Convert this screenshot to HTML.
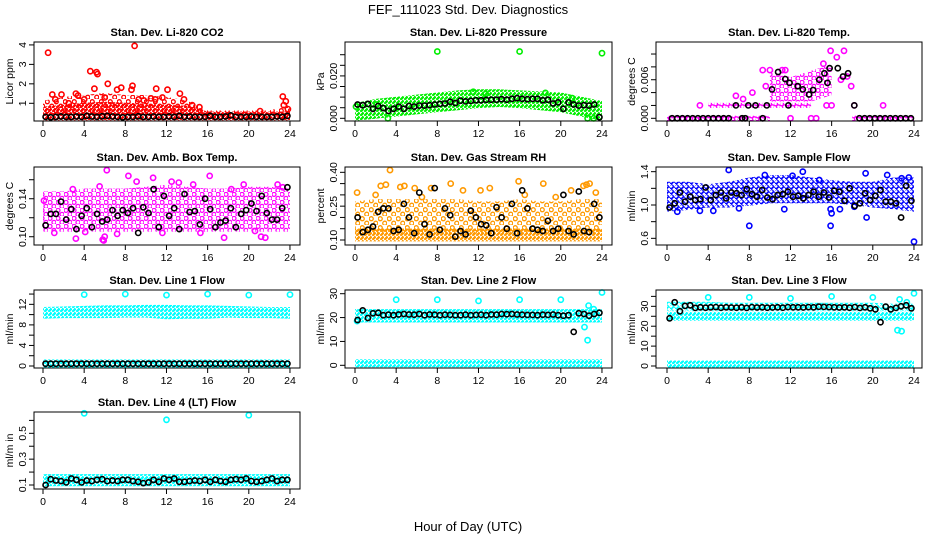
<!DOCTYPE html>
<html><head><meta charset="utf-8"><style>
html,body{margin:0;padding:0;background:#fff;}
svg{display:block;font-family:"Liberation Sans",Arial,sans-serif;}
</style></head><body>
<svg id="chart" width="936" height="540" viewBox="0 0 936 540">
<defs id="defs"></defs>
<text x="468" y="14" font-size="13" text-anchor="middle">FEF_111023  Std. Dev. Diagnostics</text>
<text x="468" y="531" font-size="13" text-anchor="middle">Hour of Day (UTC)</text>
</svg>
<script>
// ---- shared category arrays ----
const bandHours = [0,2,4,6,8,10,12,14,16,18,20,22,24];
const halfHours = Array.from({length:48},(_, i)=>i*0.5+0.25);
const xTicks = [0,4,8,12,16,20,24];

// ---- CO2 ----
const co2DenseLo = [0.25,0.25,0.25,0.25,0.25,0.25,0.25,0.25,0.25,0.25,0.25,0.25,0.25];
const co2DenseHi = [0.7,0.8,0.9,0.95,0.9,0.85,0.8,0.75,0.45,0.45,0.45,0.45,0.45];
const co2SparseLo = [0.5,0.5,0.5,0.5,0.5,0.5,0.5,0.5,0.4,0.4,0.4,0.4,0.4];
const co2SparseHi = [1.0,1.2,1.3,1.4,1.3,1.3,1.2,1.0,0.5,0.5,0.5,0.5,0.8];
const co2X = [0.5,4.6,5.2,5.3,6.3,7.2,7.6,8.7,8.9,8.6,11,12.1,13.3,13.7,3.2,1.8,0.9,5.0,23.3,23.6,9.3,10.5,11.6,21.1,23.4,23.8,2.5,4.0,6.0,14.5,15.2,1.2,3.4,9.8,10.9];
const co2Y = [3.6,2.65,2.6,2.5,2.0,1.7,1.8,1.9,3.95,1.7,1.75,1.7,1.5,1.2,1.5,1.45,1.45,1.75,1.35,1.1,1.2,1.25,1.3,0.6,0.9,0.7,1.0,1.2,1.3,0.9,0.8,1.2,1.4,1.15,1.2];
const co2Blk = [0.3,0.28,0.3,0.32,0.3,0.3,0.32,0.3,0.35,0.32,0.3,0.33,0.35,0.32,0.3,0.28,0.3,0.3,0.33,0.3,0.3,0.32,0.3,0.3,0.32,0.3,0.35,0.3,0.32,0.3,0.3,0.3,0.35,0.3,0.3,0.32,0.38,0.3,0.3,0.3,0.32,0.3,0.3,0.3,0.3,0.32,0.3,0.35];

// ---- Pressure ----
const prDenseLo = [0.0,0.001,0.002,0.003,0.004,0.005,0.006,0.0065,0.006,0.005,0.004,0.002,0.0];
const prDenseHi = [0.006,0.008,0.009,0.01,0.011,0.012,0.0125,0.0125,0.012,0.0115,0.011,0.009,0.007];
const prX = [8,16,24,2.1,3.2,22.6,23.2,0.1,11.5,12.7,18.5,21.1];
const prY = [0.0315,0.0315,0.0307,0.0065,0.0,0.0,0.0,0.0055,0.0125,0.0115,0.012,0.0095];
const prBlk = [0.0065,0.0062,0.0068,0.0045,0.0058,0.0048,0.0035,0.0045,0.0055,0.0045,0.0058,0.0055,0.006,0.006,0.0062,0.0065,0.0068,0.007,0.0078,0.0072,0.0083,0.008,0.0082,0.0085,0.0085,0.0087,0.0088,0.0088,0.009,0.0088,0.0092,0.0095,0.0092,0.009,0.0092,0.0092,0.0085,0.0088,0.007,0.0075,0.0045,0.0075,0.0065,0.006,0.0062,0.006,0.0065,0.0005];

// ---- Li-820 Temp ----
const tpDenseLo = [null,null,null,null,null,0.003,0.003,0.003,0.004,null,null,null,null];
const tpDenseHi = [null,null,null,null,null,0.007,0.006,0.007,0.008,null,null,null,null];
const tpZeroLo = [0,0,0,0,0,0,null,null,null,0,0,0,0];
const tpZeroHi = [0,0,0,0,0,0,null,null,null,0,0,0,0];
const tpTwoLo = [null,null,0.002,0.002,0.002,0.002,0.002,0.002,null,null,null,null,null];
const tpTwoHi = [null,null,0.002,0.002,0.002,0.002,0.002,0.002,null,null,null,null,null];
const tpX = [6.7,7.4,9.3,11.2,11.5,15.2,15.9,16.5,17.2,17.5,10,3.2,18.2,21,12,14,14.5,15.5,16,9.6,8.3,16.9,17.9];
const tpY = [0.0035,0.003,0.0075,0.0075,0.0075,0.0085,0.0105,0.0095,0.0105,0.0065,0.0075,0.002,0.002,0.002,0,0,0,0.002,0.002,0.005,0.004,0.006,0.005];
const tpBlkX = [0.5,1,1.5,2,2.5,3,3.5,4,4.5,5,5.5,6,7.3,7.6,9.3,6.7,7.9,8.6,9.7,10.2,10.8,11.5,11.9,11.8,12.7,13.2,13.8,14.2,14.8,15.3,15.6,15.8,16.6,17.1,17.6,18.2,18.7,19.2,19.7,20.2,20.7,21.2,21.7,22.2,22.7,23.2,23.7];
const tpBlkY = [0,0,0,0,0,0,0,0,0,0,0,0,0,0,0,0.002,0.002,0.002,0.002,0.0045,0.0072,0.0061,0.0055,0.002,0.005,0.0045,0.0037,0.0044,0.006,0.007,0.0055,0.0078,0.0078,0.0065,0.007,0.002,0,0,0,0,0,0,0,0,0,0,0];

// ---- Amb Box Temp ----
const abLo = [0.108,0.108,0.108,0.108,0.108,0.108,0.108,0.108,0.108,0.108,0.108,0.108,0.108];
const abHi = [0.145,0.145,0.148,0.148,0.148,0.15,0.152,0.15,0.148,0.148,0.15,0.15,0.148];
const abX = [8.3,10.7,13.2,16.2,6.2,12.5,5.5,19.5,22.8,3.2,5.8,6,21.2,21.6,17.6,5.9,0.1,2.9,9.1,14.6,18.3,23.3,1.1,11.6,15.3,20.6,7.2,4.1];
const abY = [0.164,0.162,0.157,0.164,0.17,0.158,0.153,0.155,0.155,0.098,0.097,0.1,0.1,0.099,0.099,0.096,0.138,0.15,0.158,0.155,0.15,0.152,0.104,0.104,0.104,0.106,0.103,0.105];
const abBlk = [0.112,0.124,0.124,0.137,0.118,0.129,0.108,0.122,0.13,0.11,0.124,0.116,0.118,0.128,0.122,0.128,0.125,0.13,0.104,0.131,0.125,0.15,0.11,0.143,0.122,0.13,0.108,0.145,0.126,0.127,0.113,0.14,0.129,0.11,0.115,0.117,0.13,0.11,0.124,0.128,0.135,0.127,0.143,0.125,0.118,0.118,0.13,0.152];

// ---- Gas Stream RH ----
const rhDenseLo = [0.105,0.105,0.105,0.105,0.105,0.105,0.105,0.105,0.105,0.105,0.105,0.105,0.105];
const rhDenseHi = [0.14,0.14,0.14,0.14,0.14,0.14,0.14,0.14,0.14,0.14,0.14,0.14,0.14];
const rhSparseLo = [0.14,0.14,0.14,0.14,0.14,0.14,0.14,0.14,0.14,0.14,0.14,0.14,0.14];
const rhSparseHi = [0.26,0.27,0.27,0.27,0.27,0.27,0.26,0.26,0.27,0.26,0.26,0.27,0.27];
const rhX = [3.4,0.2,2.5,3.0,4.4,4.8,5.8,9.3,13.1,12.2,15.9,18.3,21.0,22.2,22.5,23.4,22.8,7.4,10.5,2.0,6.5,16.5,19.5];
const rhY = [0.41,0.31,0.34,0.345,0.335,0.34,0.33,0.35,0.33,0.32,0.36,0.35,0.32,0.34,0.345,0.31,0.35,0.33,0.32,0.3,0.29,0.3,0.29];
const rhBlk = [0.2,0.135,0.145,0.16,0.225,0.24,0.24,0.14,0.145,0.26,0.2,0.13,0.31,0.17,0.125,0.33,0.145,0.24,0.21,0.115,0.14,0.125,0.23,0.2,0.17,0.165,0.13,0.245,0.2,0.15,0.26,0.13,0.32,0.24,0.15,0.145,0.14,0.185,0.14,0.15,0.3,0.14,0.125,0.315,0.14,0.135,0.26,0.2];

// ---- Sample Flow ----
const sfLo = [0.95,0.97,1.0,1.0,1.02,1.05,1.05,1.05,1.05,1.03,1.0,0.98,0.95];
const sfHi = [1.25,1.25,1.22,1.25,1.3,1.33,1.33,1.3,1.27,1.25,1.25,1.3,1.3];
const sfX = [6,8,15.9,15.9,16,19.4,24,7,11.4,13.2,19.3,21.4,3.2,1,16.8,18.2,9.5,12.2,14.8,22.8,23.5,4.5];
const sfY = [1.42,0.75,0.75,0.95,0.9,0.85,0.56,0.96,0.95,1.4,1.38,1.36,0.93,0.92,0.95,0.98,1.36,1.35,1.3,1.32,1.33,0.93];
const sfBlk = [0.97,1.02,1.15,1.04,1.1,1.06,1.07,1.21,1.06,1.12,1.15,1.08,1.15,1.14,1.12,1.19,1.13,1.1,1.18,1.09,1.07,1.12,1.13,1.16,1.1,1.11,1.08,1.12,1.16,1.1,1.15,1.09,1.17,1.16,1.05,1.2,0.99,1.02,1.14,1.06,1.11,1.18,1.04,1.04,1.02,0.85,1.23,1.05];

// ---- Line 1 ----
const l1Lo = [9.7,9.8,9.8,9.8,9.9,9.9,9.6,9.7,9.7,9.9,9.8,9.8,9.7];
const l1Hi = [11.0,11.1,11.2,11.3,11.3,11.4,11.4,11.3,11.3,11.2,11.1,11.0,11.0];
const l1ZLo = [0.2,0.2,0.2,0.2,0.2,0.2,0.2,0.2,0.2,0.2,0.2,0.2,0.2];
const l1ZHi = [0.8,0.8,0.8,0.8,0.8,0.8,0.8,0.8,0.8,0.8,0.8,0.8,0.8];
const l1X = [4,8,12,16,20,24];
const l1Y = [13.9,14.0,13.8,14.0,13.8,13.9];
const l1Blk = Array(48).fill(0.45);

// ---- Line 2 ----
const l2Lo = [19,19,19,19,19,19,19,19,19,19,19,19,19];
const l2Hi = [22.5,22.5,22.5,22.5,22.5,22.5,22.5,22.5,22.5,22.5,22.5,22.5,22.5];
const l2ZLo = [0.2,0.2,0.2,0.2,0.2,0.2,0.2,0.2,0.2,0.2,0.2,0.2,0.2];
const l2ZHi = [1.5,1.5,1.5,1.5,1.5,1.5,1.5,1.5,1.5,1.5,1.5,1.5,1.5];
const l2X = [4,8,12,16,20,24,22.3,22.6,22.7,23.2,0.2];
const l2Y = [27.5,27.5,27,27.5,27.5,30.5,16,10.5,25,23.5,18.5];
const l2Blk = [19,23,19.8,21.8,22,21,21.2,21,21.3,21.5,21.3,21.2,21.5,21,21.3,21.2,21,21.2,21.1,21,21,21.2,21,21.1,21.2,21,21.3,21.2,21.5,21.4,21.5,21.3,21.2,21.1,21.1,21,21.2,21.1,21.3,21,20.8,21,14,21.8,21.5,20.8,21.5,22];

// ---- Line 3 ----
const l3Lo = [24,24,24,24,24,24,24,24,24,24,24,24,24];
const l3Hi = [26,26,26,26,26,26,26,26,26,26,26,26,26];
const l3UpLo = [29,29,29,29,29,29,29,29,29,29,29,29,29];
const l3UpHi = [31,31,31,30.5,30.5,30.5,30.5,30.5,30.5,30.5,30.5,30,30];
const l3ZLo = [0.2,0.2,0.2,0.2,0.2,0.2,0.2,0.2,0.2,0.2,0.2,0.2,0.2];
const l3ZHi = [1.5,1.5,1.5,1.5,1.5,1.5,1.5,1.5,1.5,1.5,1.5,1.5,1.5];
const l3X = [4,8,12,16,20,24,22.6,22.4,22.8,23.3];
const l3Y = [34.5,34.5,34,35,34.5,36.5,33.5,18,17.5,32];
const l3Blk = [24,32,27.5,30.2,30.5,29.2,29.5,29.3,29.5,29.6,29.3,29.5,29.4,29.3,29.5,29.2,29.6,29.4,29.5,29.3,29.4,29.5,29.3,29.6,29.5,29.5,29.4,29.6,29.5,29.8,29.7,29.6,29.5,29.4,29.5,29.3,29.6,29.2,29.5,29.0,28.5,22,29.8,28.5,29.2,30,30.5,29];

// ---- Line 4 ----
const l4Lo = [0.11,0.11,0.11,0.11,0.11,0.11,0.11,0.11,0.11,0.11,0.11,0.11,0.11];
const l4Hi = [0.165,0.165,0.165,0.165,0.165,0.165,0.165,0.165,0.165,0.165,0.165,0.165,0.165];
const l4X = [4,12,20];
const l4Y = [0.655,0.605,0.64];
const l4Blk = [0.1,0.145,0.135,0.13,0.12,0.15,0.14,0.12,0.135,0.13,0.14,0.145,0.13,0.135,0.13,0.14,0.14,0.13,0.125,0.115,0.12,0.14,0.125,0.15,0.14,0.15,0.125,0.125,0.13,0.135,0.13,0.14,0.125,0.14,0.13,0.125,0.14,0.145,0.14,0.15,0.13,0.125,0.13,0.14,0.15,0.13,0.14,0.14];

// ---- layout (not data) ----
const NS = "http://www.w3.org/2000/svg";
const svg = document.getElementById('chart');
const defs = document.getElementById('defs');
const colLeft = [34,345,656], colRight = [300,612,922], colZero = [43,355,667];
const rowTop = [42,167,290,412], rowBot = [121,245,368,489];
const PX_PER_HR = 10.29;

function mk(tag, attrs, parent){
  const e = document.createElementNS(NS, tag);
  for (const k in attrs) e.setAttribute(k, attrs[k]);
  (parent||svg).appendChild(e);
  return e;
}
const patMade = {};
function pattern(color, sp){
  const id = 'p' + color.replace('#','') + '_' + String(sp).replace('.','_');
  if (patMade[id]) return id;
  patMade[id] = 1;
  const p = mk('pattern', {id:id, width:sp, height:sp, patternUnits:'userSpaceOnUse'}, defs);
  mk('circle', {cx:sp*0.25, cy:sp*0.3, r:2, fill:'none', stroke:color, 'stroke-width':1.3}, p);
  mk('circle', {cx:sp*0.75, cy:sp*0.8, r:2, fill:'none', stroke:color, 'stroke-width':1.3}, p);
  return id;
}

const panels = [
 {t:'Stan. Dev. Li-820 CO2', c:0,r:0, yd:[0.09,4.15], ticks:[1,2,3,4], labels:[1,2,3,4], fmt:0, yl:'Licor ppm', col:'#ff0000',
  bands:[[co2SparseLo,co2SparseHi,9],[co2DenseLo,co2DenseHi,4]], sx:co2X, sy:co2Y, bx:halfHours, by:co2Blk},
 {t:'Stan. Dev. Li-820 Pressure', c:1,r:0, yd:[-0.00127,0.036], ticks:[0,0.005,0.01,0.015,0.02,0.025,0.03], labels:[0,0.02], fmt:3, yl:'kPa', col:'#00ee00',
  bands:[[prDenseLo,prDenseHi,4]], sx:prX, sy:prY, bx:halfHours, by:prBlk},
 {t:'Stan. Dev. Li-820 Temp.', c:2,r:0, yd:[-0.00042,0.01187], ticks:[0,0.002,0.004,0.006,0.008,0.01], labels:[0,0.006], fmt:3, yl:'degrees C', col:'#ff00ff',
  bands:[[tpDenseLo,tpDenseHi,8],[tpZeroLo,tpZeroHi,6],[tpTwoLo,tpTwoHi,6]], sx:tpX, sy:tpY, bx:tpBlkX, by:tpBlkY},
 {t:'Stan. Dev. Amb. Box Temp.', c:0,r:1, yd:[0.0913,0.1734], ticks:[0.1,0.12,0.14,0.16], labels:[0.1,0.14], fmt:2, yl:'degrees C', col:'#ff00ff',
  bands:[[abLo,abHi,8]], sx:abX, sy:abY, bx:halfHours, by:abBlk},
 {t:'Stan. Dev. Gas Stream RH', c:1,r:1, yd:[0.0778,0.4236], ticks:[0.1,0.15,0.2,0.25,0.3,0.35,0.4], labels:[0.1,0.25,0.4], fmt:2, yl:'percent', col:'#ff9900',
  bands:[[rhSparseLo,rhSparseHi,9],[rhDenseLo,rhDenseHi,4]], sx:rhX, sy:rhY, bx:halfHours, by:rhBlk},
 {t:'Stan. Dev. Sample Flow', c:2,r:1, yd:[0.52,1.456], ticks:[0.6,0.8,1.0,1.2,1.4], labels:[0.6,1.0,1.4], fmt:1, yl:'ml/min', col:'#0000ff',
  bands:[[sfLo,sfHi,5]], sx:sfX, sy:sfY, bx:halfHours, by:sfBlk},
 {t:'Stan. Dev. Line 1 Flow', c:0,r:2, yd:[-0.39,14.79], ticks:[0,2,4,6,8,10,12,14], labels:[0,4,8,12], fmt:0, yl:'ml/min', col:'#00ffff',
  bands:[[l1Lo,l1Hi,4],[l1ZLo,l1ZHi,4]], sx:l1X, sy:l1Y, bx:halfHours, by:l1Blk},
 {t:'Stan. Dev. Line 2 Flow', c:1,r:2, yd:[-1.13,31.55], ticks:[0,10,20,30], labels:[0,10,20,30], fmt:0, yl:'ml/min', col:'#00ffff',
  bands:[[l2Lo,l2Hi,4],[l2ZLo,l2ZHi,4]], sx:l2X, sy:l2Y, bx:halfHours, by:l2Blk},
 {t:'Stan. Dev. Line 3 Flow', c:2,r:2, yd:[-1.0,38.2], ticks:[0,5,10,15,20,25,30,35], labels:[0,10,20,30], fmt:0, yl:'ml/min', col:'#00ffff',
  bands:[[l3Lo,l3Hi,4],[l3UpLo,l3UpHi,5],[l3ZLo,l3ZHi,4]], sx:l3X, sy:l3Y, bx:halfHours, by:l3Blk},
 {t:'Stan. Dev. Line 4 (LT) Flow', c:0,r:3, yd:[0.069,0.665], ticks:[0.1,0.2,0.3,0.4,0.5,0.6], labels:[0.1,0.3,0.5], fmt:1, yl:'ml/m in', col:'#00ffff',
  bands:[[l4Lo,l4Hi,4]], sx:l4X, sy:l4Y, bx:halfHours, by:l4Blk}
];

panels.forEach((P, pi) => {
  const L = colLeft[P.c], R = colRight[P.c], T = rowTop[P.r], B = rowBot[P.r];
  const xs = h => colZero[P.c] + h * PX_PER_HR;
  const ys = v => B - (v - P.yd[0]) / (P.yd[1] - P.yd[0]) * (B - T);
  const slug = P.t.replace('Stan. Dev. ','').toLowerCase().replace(/[^a-z0-9]+/g,'-').replace(/-$/,'');
  const g = mk('g', {});
  
  

  const tt = mk('text', {x:(L+R)/2, y:T-6, 'font-size':11, 'font-weight':'bold', 'text-anchor':'middle'}, g);
  tt.textContent = P.t;
  
  

  P.bands.forEach(bd => {
    const lo = bd[0], hi = bd[1], pid = pattern(P.col, bd[2]);
    let run = [];
    const flush = () => {
      if (!run.length) return;
      const x0 = xs(bandHours[run[0]]) - (run.length === 1 ? 3 : 0);
      const x1 = xs(bandHours[run[run.length-1]]) + (run.length === 1 ? 3 : 0);
      let pts = [];
      if (run.length === 1) {
        const i = run[0];
        pts = [[x0, ys(hi[i]) - 2.5], [x1, ys(hi[i]) - 2.5], [x1, ys(lo[i]) + 2.5], [x0, ys(lo[i]) + 2.5]];
      } else {
        run.forEach(i => pts.push([xs(bandHours[i]), ys(hi[i]) - 2.5]));
        run.slice().reverse().forEach(i => pts.push([xs(bandHours[i]), ys(lo[i]) + 2.5]));
      }
      const poly = mk('polygon', {points: pts.map(p => p.map(n => n.toFixed(1)).join(',')).join(' '), fill:'url(#' + pid + ')'}, g);
      
      
      run = [];
    };
    for (let i = 0; i < bandHours.length; i++) {
      if (lo[i] === null || hi[i] === null) flush(); else run.push(i);
    }
    flush();
  });

  P.sx.forEach((h, i) => {
    const c = mk('circle', {cx:xs(h).toFixed(1), cy:ys(P.sy[i]).toFixed(1), r:2.6, fill:'none', stroke:P.col, 'stroke-width':1.6}, g);
    
    
  });

  P.bx.forEach((h, i) => {
    const c = mk('circle', {cx:xs(h).toFixed(1), cy:ys(P.by[i]).toFixed(1), r:2.6, fill:'none', stroke:'#000', 'stroke-width':1.6}, g);
    
    
  });

  const box = mk('rect', {x:L, y:T, width:R-L, height:B-T, fill:'none', stroke:'#000', 'stroke-width':1}, g);
  
  

  xTicks.forEach(h => {
    mk('line', {x1:xs(h), x2:xs(h), y1:B, y2:B+5, stroke:'#000'}, g);
    const tl = mk('text', {x:xs(h), y:B+16, 'font-size':10.5, 'text-anchor':'middle'}, g);
    tl.textContent = h;
    
    
  });

  P.ticks.forEach(v => {
    mk('line', {x1:L-5, x2:L, y1:ys(v), y2:ys(v), stroke:'#000'}, g);
  });
  P.labels.forEach(v => {
    const yy = ys(v), xx = L - 8;
    const tl = mk('text', {x:xx, y:yy, 'font-size':10.5, 'text-anchor':'middle', transform:'rotate(-90 ' + xx + ' ' + yy + ')'}, g);
    tl.textContent = v.toFixed(P.fmt);
    
    
  });
  const ym = (T + B) / 2, yx = L - 21;
  const yl = mk('text', {x:yx, y:ym, 'font-size':10.5, 'text-anchor':'middle', transform:'rotate(-90 ' + yx + ' ' + ym + ')'}, g);
  yl.textContent = P.yl;
  
  
});
</script>
</body></html>
